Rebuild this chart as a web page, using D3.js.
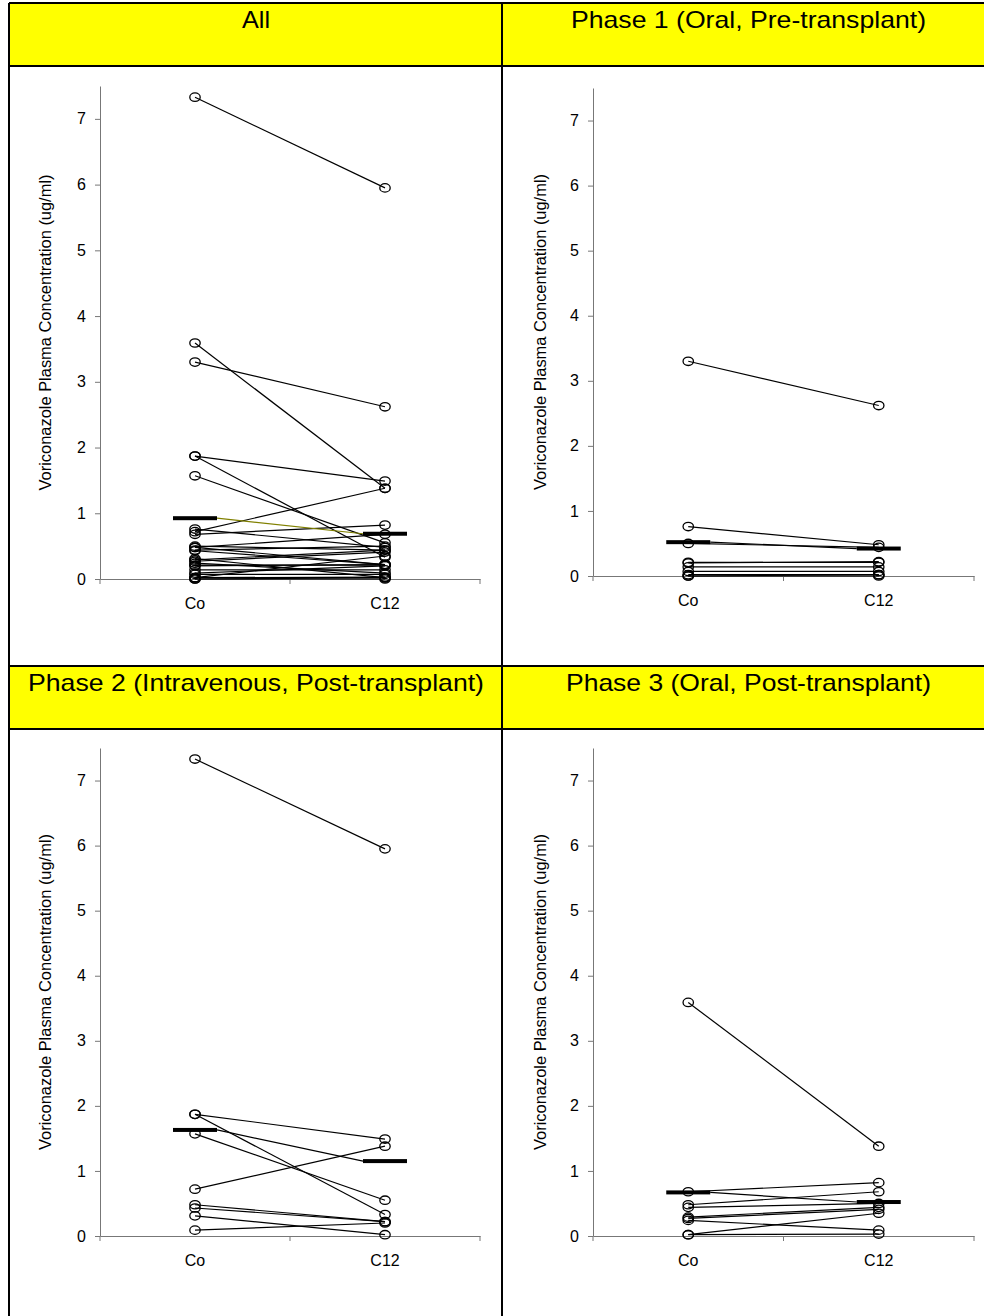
<!DOCTYPE html>
<html>
<head>
<meta charset="utf-8">
<script src="https://cdn.jsdelivr.net/npm/d3@7"></script>
<style>
  html, body { margin: 0; padding: 0; background: #fff; }
  svg { display: block; font-family: "Liberation Sans", Arial, sans-serif; }
</style>
</head>
<body>
<svg id="chart" width="984" height="1316"></svg>
<script>
// Voriconazole trough (Co) and 12-hour (C12) plasma concentrations, ug/ml,
// one pair per patient, split by treatment phase.
const timepoints = ["Co", "C12"];
const yTicks = [0, 1, 2, 3, 4, 5, 6, 7];

const phase1Co  = [3.30, 0.76, 0.50, 0.21, 0.20, 0.14, 0.07, 0.02, 0.00, 0.00];
const phase1C12 = [2.62, 0.48, 0.44, 0.21, 0.22, 0.14, 0.07, 0.02, 0.00, 0.02];

const phase2Co  = [7.33, 1.87, 1.87, 1.57, 0.72, 0.48, 0.43, 0.31, 0.09];
const phase2C12 = [5.95, 1.49, 0.33, 0.55, 1.38, 0.22, 0.22, 0.02, 0.20];

const phase3Co  = [3.59, 0.68, 0.48, 0.44, 0.29, 0.27, 0.24, 0.02, 0.02];
const phase3C12 = [1.38, 0.82, 0.68, 0.50, 0.44, 0.41, 0.09, 0.35, 0.03];

const allCo  = phase1Co.concat(phase2Co, phase3Co);
const allC12 = phase1C12.concat(phase2C12, phase3C12);

const titles = ["All", "Phase 1 (Oral, Pre-transplant)",
                "Phase 2 (Intravenous, Post-transplant)", "Phase 3 (Oral, Post-transplant)"];
const yLabel = "Voriconazole Plasma Concentration (ug/ml)";

// Panel layout: table cell, plot area and per-panel styling.
const panels = [
  { title: titles[0], co: allCo,    c12: allC12,    cx: 256,   titleY: 28,  titleLen: 28,
    x0: 100, x1: 480, top: 86,  bottom: 579,  labelX: 45,  meanLine: "#808000" },
  { title: titles[1], co: phase1Co, c12: phase1C12, cx: 748.5, titleY: 28,  titleLen: 355,
    x0: 593, x1: 974, top: 88,  bottom: 576,  labelX: 540, meanLine: "#000" },
  { title: titles[2], co: phase2Co, c12: phase2C12, cx: 256,   titleY: 691, titleLen: 456,
    x0: 100, x1: 480, top: 748, bottom: 1236, labelX: 45,  meanLine: "#000" },
  { title: titles[3], co: phase3Co, c12: phase3C12, cx: 748.5, titleY: 691, titleLen: 365,
    x0: 593, x1: 974, top: 748, bottom: 1236, labelX: 540, meanLine: "#000" }
];

const svg = d3.select("#chart");
const axisColor = "#777";
const tickFont = 16;

// Table: yellow title rows and cell borders
const grid = svg.append("g");
grid.append("rect").attr("x", 10).attr("y", 4).attr("width", 974).attr("height", 61).attr("fill", "#ffff00");
grid.append("rect").attr("x", 10).attr("y", 667).attr("width", 974).attr("height", 61).attr("fill", "#ffff00");
const borders = [
  [9, 3, 9, 1316], [9, 3, 984, 3], [9, 66, 984, 66], [502, 3, 502, 1316],
  [9, 666, 984, 666], [9, 729, 984, 729]
];
grid.selectAll("line").data(borders).join("line")
  .attr("x1", d => d[0]).attr("y1", d => d[1]).attr("x2", d => d[2]).attr("y2", d => d[3])
  .attr("stroke", "#000").attr("stroke-width", 2);

panels.forEach(p => {
  const g = svg.append("g");

  g.append("text")
    .attr("x", p.cx).attr("y", p.titleY)
    .attr("text-anchor", "middle")
    .attr("font-size", 24)
    .attr("textLength", p.titleLen).attr("lengthAdjust", "spacingAndGlyphs")
    .text(p.title);

  const x = d3.scaleBand().domain(timepoints).range([p.x0, p.x1]);
  const y = d3.scaleLinear().domain([0, 7.5]).range([p.bottom, p.top]);
  const cxOf = t => x(t) + x.bandwidth() / 2;

  // y axis
  const yAxis = g.append("g").attr("transform", `translate(${p.x0},0)`)
    .call(d3.axisLeft(y).tickValues(yTicks).tickFormat(d3.format("d")).tickSize(5).tickSizeOuter(0).tickPadding(9));
  yAxis.select(".domain").attr("stroke", axisColor);
  yAxis.selectAll(".tick line").attr("stroke", axisColor);
  yAxis.selectAll(".tick text").attr("font-size", tickFont).attr("fill", "#000")
    .attr("font-family", "Liberation Sans, Arial, sans-serif");

  // x axis: labels at band centres, ticks at band edges
  const xAxis = g.append("g").attr("transform", `translate(0,${p.bottom})`)
    .call(d3.axisBottom(x).tickSize(0).tickSizeOuter(0).tickPadding(19));
  xAxis.select(".domain").attr("stroke", axisColor);
  xAxis.selectAll(".tick text").attr("font-size", tickFont).attr("fill", "#000")
    .attr("font-family", "Liberation Sans, Arial, sans-serif");
  const edges = [p.x0].concat(timepoints.map(t => x(t) + x.bandwidth()));
  xAxis.selectAll(".edge").data(edges).join("line").attr("class", "edge")
    .attr("x1", d => d).attr("x2", d => d).attr("y1", 0).attr("y2", 5)
    .attr("stroke", axisColor);

  // y axis title
  g.append("text")
    .attr("transform", `translate(${p.labelX},${(p.top + p.bottom) / 2}) rotate(-90)`)
    .attr("text-anchor", "middle")
    .attr("dy", "0.35em")
    .attr("font-size", 16)
    .attr("textLength", 316).attr("lengthAdjust", "spacingAndGlyphs")
    .text(yLabel);

  // one line per patient
  const pairs = p.co.map((v, i) => ({ co: v, c12: p.c12[i] }));
  g.append("g").selectAll("line").data(pairs).join("line")
    .attr("x1", cxOf("Co")).attr("y1", d => y(d.co))
    .attr("x2", cxOf("C12")).attr("y2", d => y(d.c12))
    .attr("stroke", "#000").attr("stroke-width", 1.2);

  // mean markers and the line joining them
  const meanCo = d3.mean(p.co), meanC12 = d3.mean(p.c12);
  const barW = 44, barH = 4;
  g.append("line")
    .attr("x1", cxOf("Co") + barW / 2).attr("y1", y(meanCo))
    .attr("x2", cxOf("C12") - barW / 2).attr("y2", y(meanC12))
    .attr("stroke", p.meanLine).attr("stroke-width", 1.2);

  // open circles for each observation
  const pts = [];
  pairs.forEach(d => { pts.push({ t: "Co", v: d.co }); pts.push({ t: "C12", v: d.c12 }); });
  g.append("g").selectAll("ellipse").data(pts).join("ellipse")
    .attr("cx", d => cxOf(d.t)).attr("cy", d => y(d.v))
    .attr("rx", 5.2).attr("ry", 4.2)
    .attr("fill", "none").attr("stroke", "#000").attr("stroke-width", 1.3);

  g.append("g").selectAll("rect").data([{ t: "Co", v: meanCo }, { t: "C12", v: meanC12 }]).join("rect")
    .attr("x", d => cxOf(d.t) - barW / 2).attr("y", d => y(d.v) - barH / 2)
    .attr("width", barW).attr("height", barH)
    .attr("fill", "#000");
});
</script>
</body>
</html>
